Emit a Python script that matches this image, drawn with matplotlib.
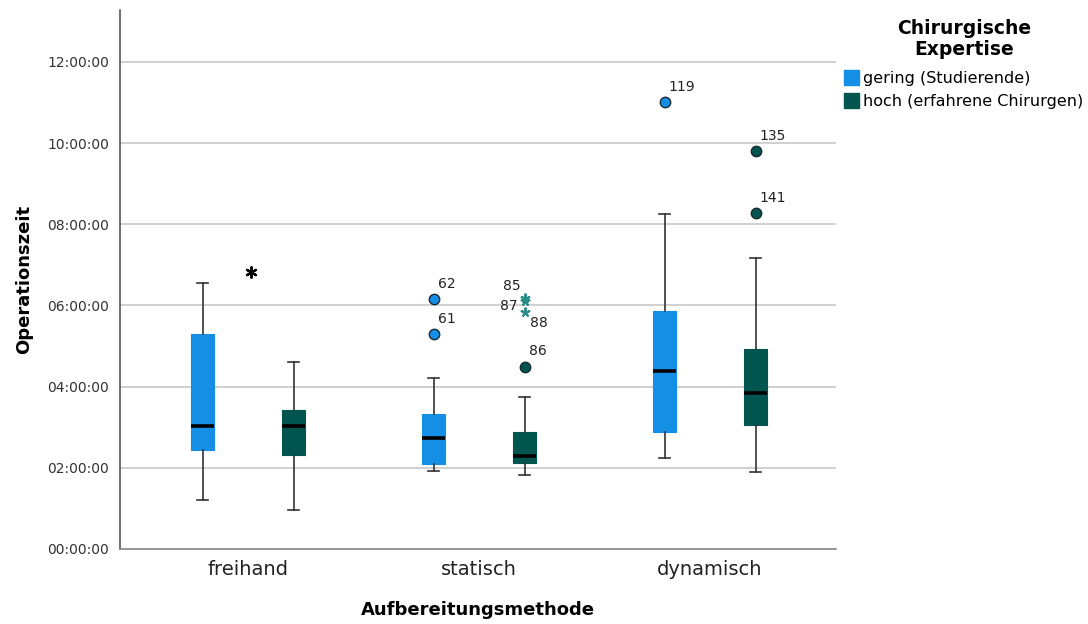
import matplotlib
matplotlib.use("Agg")
import matplotlib.pyplot as plt
from matplotlib.patches import Patch
from matplotlib.ticker import FuncFormatter

# Operation times in hours
methods = ["freihand", "statisch", "dynamisch"]
groups = ["gering (Studierende)", "hoch (erfahrene Chirurgen)"]
colors = ["#158ee6", "#00564f"]

# box statistics per method: [whislo, q1, median, q3, whishi]
gering_stats = [
    [1.21, 2.44, 3.03, 5.30, 6.55],
    [1.92, 2.09, 2.74, 3.33, 4.21],
    [2.24, 2.88, 4.39, 5.87, 8.26],
]
hoch_stats = [
    [0.96, 2.32, 3.03, 3.43, 4.61],
    [1.82, 2.12, 2.29, 2.88, 3.75],
    [1.90, 3.06, 3.84, 4.93, 7.17],
]

# outliers: (method index, value, case label)
gering_outliers = [(1, 6.16, "62"), (1, 5.30, "61"), (2, 11.01, "119")]
hoch_outliers = [(1, 4.49, "86"), (2, 9.81, "135"), (2, 8.28, "141")]
# extremes: (method index, value, case label)
hoch_extremes = [(1, 6.18, "85"), (1, 6.10, "87"), (1, 5.85, "88")]
unlabelled_extremes = [(0, 6.83)]

plt.rcParams["font.family"] = "DejaVu Sans"
fig = plt.figure(figsize=(10.88, 6.24), dpi=100)
ax = fig.add_axes([120 / 1088, 75 / 624, 716 / 1088, 539 / 624])

offset = 0.197
width = 0.098


def stats_list(rows):
    out = []
    for lo, q1, med, q3, hi in rows:
        out.append(dict(whislo=lo, q1=q1, med=med, q3=q3, whishi=hi, fliers=[]))
    return out


for stats, sign, col in [(gering_stats, -1, colors[0]), (hoch_stats, 1, colors[1])]:
    pos = [i + sign * offset for i in range(len(methods))]
    ax.bxp(stats_list(stats), positions=pos, widths=width, patch_artist=True,
           showfliers=False, manage_ticks=False,
           boxprops=dict(facecolor=col, edgecolor=col, linewidth=0.8),
           medianprops=dict(color="black", linewidth=2.6, solid_capstyle="butt"),
           whiskerprops=dict(color="#333333", linewidth=1.2),
           capprops=dict(color="#333333", linewidth=1.2),
           capwidths=width * 0.5, zorder=3)

# outlier circles with case labels
for pts, sign, col in [(gering_outliers, -1, colors[0]), (hoch_outliers, 1, colors[1])]:
    for i, v, lab in pts:
        x = i + sign * offset
        ax.plot(x, v, "o", ms=7.5, mfc=col, mec="#1a2a33", mew=1.0, zorder=4)
        ax.annotate(lab, (x, v), xytext=(3, 6), textcoords="offset points",
                    fontsize=10, color="#222222", ha="left", va="bottom")

# extreme values
label_style = {"85": ((-3, 4), "right", "bottom"),
               "87": ((-5, -3), "right", "center"),
               "88": ((4, -8), "left", "center")}
for i, v, lab in hoch_extremes:
    x = i + offset
    ax.plot(x, v, marker=(5, 2, 0), ms=7, color="#2a8c8a", mew=1.4, zorder=4)
    xy, ha, va = label_style[lab]
    ax.annotate(lab, (x, v), xytext=xy, textcoords="offset points",
                fontsize=10, color="#222222", ha=ha, va=va)
for i, v in unlabelled_extremes:
    ax.plot(i + 0.013, v, marker=(6, 2, 0), ms=8.5, color="black", mew=1.6, zorder=4)

# axes styling
ax.set_xlim(-0.555, 2.545)
ax.set_ylim(0, 13.28)
ax.set_yticks(range(0, 13, 2))
ax.yaxis.set_major_formatter(FuncFormatter(lambda v, p: f"{int(v):02d}:00:00"))
ax.set_xticks(range(len(methods)))
ax.set_xticklabels(methods, fontsize=14, color="#222222")
ax.tick_params(axis="y", length=0, labelsize=10, pad=8, labelcolor="#333333")
ax.tick_params(axis="x", length=0, pad=8)
ax.grid(axis="y", color="#c8c8c8", linewidth=1.2, zorder=0)
ax.set_axisbelow(True)
for s in ["top", "right"]:
    ax.spines[s].set_visible(False)
ax.spines["left"].set_color("#555555")
ax.spines["bottom"].set_color("#888888")
ax.spines["left"].set_linewidth(1.2)
ax.spines["bottom"].set_linewidth(1.2)

ax.set_ylabel("Operationszeit", fontsize=13, fontweight="bold", labelpad=10)
ax.set_xlabel("Aufbereitungsmethode", fontsize=13, fontweight="bold", labelpad=16)

handles = [Patch(facecolor=c, edgecolor=c) for c in colors]
leg = fig.legend(handles, groups, title="Chirurgische\nExpertise",
                 loc="upper left", bbox_to_anchor=(833 / 1088, 1 - 8 / 624),
                 frameon=False, fontsize=11.5, handlelength=0.9, handleheight=1.1,
                 handletextpad=0.3, labelspacing=0.45, borderpad=0.2,
                 title_fontproperties={"weight": "bold", "size": 13.5})
leg._legend_box.align = "center"
leg._legend_box.sep = 8
leg.get_title().set_multialignment("center")
leg.get_title().set_linespacing(1.1)

fig.savefig("out.png", dpi=100)
